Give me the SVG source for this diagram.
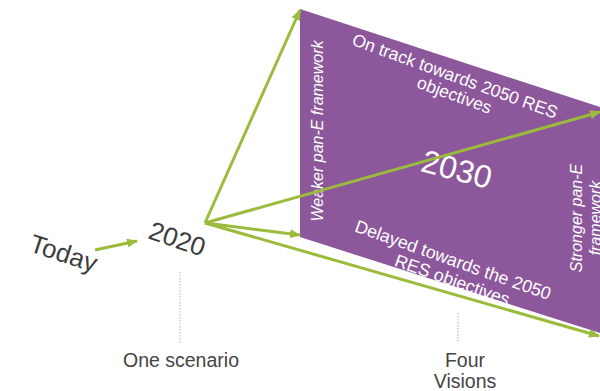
<svg xmlns="http://www.w3.org/2000/svg" width="600" height="391" viewBox="0 0 600 391">
  <style>
    .dark { font-family: "Liberation Sans", Arial, sans-serif; fill: #3d3d3d; }
    .label { font-family: "Liberation Sans", Arial, sans-serif; fill: #444444; font-size: 19.5px; text-anchor: middle; }
    .onpanel { font-family: "Liberation Sans", Arial, sans-serif; fill: #ffffff; text-anchor: middle; }
    .side { font-style: italic; font-size: 16px; }
    .arrow { stroke: #9bbb3c; stroke-width: 3; fill: none; marker-end: url(#head); }
    .guide { stroke: #b0aec0; stroke-width: 1; stroke-dasharray: 1.5 1.5; }
  </style>
  <defs>
    <marker id="head" markerUnits="userSpaceOnUse" markerWidth="11" markerHeight="9" refX="10" refY="4.5" orient="auto">
      <path d="M0,0 L11,4.5 L0,9 z" fill="#9bbb3c"/>
    </marker>
  </defs>

  <rect width="600" height="391" fill="#ffffff"/>

  <!-- 2030 panel -->
  <g id="panel-2030">
    <polygon points="300,9 620,113.6 620,339.5 300,237" fill="#8c579b"/>
    <text class="onpanel" font-size="32" transform="translate(454,180) rotate(15)">2030</text>
    <g transform="translate(455,76) rotate(20)">
      <text class="onpanel" font-size="17.5" x="0" y="6">On track towards 2050 RES</text>
      <text class="onpanel" font-size="17.5" x="6" y="24">objectives</text>
    </g>
    <g transform="translate(453,260) rotate(19.5)">
      <text class="onpanel" font-size="17.8" x="0" y="6">Delayed towards the 2050</text>
      <text class="onpanel" font-size="17.8" x="6" y="25">RES objectives</text>
    </g>
    <text class="onpanel side" transform="translate(323,131) rotate(-90)">Weaker pan-E framework</text>
    <g transform="translate(582,218) rotate(-90)">
      <text class="onpanel side" x="0" y="0">Stronger pan-E</text>
      <text class="onpanel side" x="0" y="19">framework</text>
    </g>
  </g>

  <!-- timeline markers -->
  <g id="today">
    <text class="dark" font-size="26" transform="translate(28,251) rotate(18)">Today</text>
  </g>
  <g id="year-2020">
    <text class="dark" font-size="26" transform="translate(147,238) rotate(19)">2020</text>
  </g>

  <!-- connectors -->
  <g id="connectors">
    <line class="arrow" x1="95" y1="250" x2="137" y2="241"/>
    <line class="arrow" x1="205" y1="223" x2="300" y2="10"/>
    <line class="arrow" x1="205" y1="223" x2="600" y2="112"/>
    <line class="arrow" x1="205" y1="223" x2="300" y2="235"/>
    <line class="arrow" x1="205" y1="223" x2="599" y2="336"/>
  </g>

  <!-- footer labels -->
  <g id="one-scenario">
    <line class="guide" x1="180" y1="272" x2="180" y2="343"/>
    <text class="label" x="181" y="367">One scenario</text>
  </g>
  <g id="four-visions">
    <line class="guide" x1="458" y1="313" x2="458" y2="342"/>
    <text class="label" x="465" y="367">Four</text>
    <text class="label" x="465" y="388">Visions</text>
  </g>
</svg>
